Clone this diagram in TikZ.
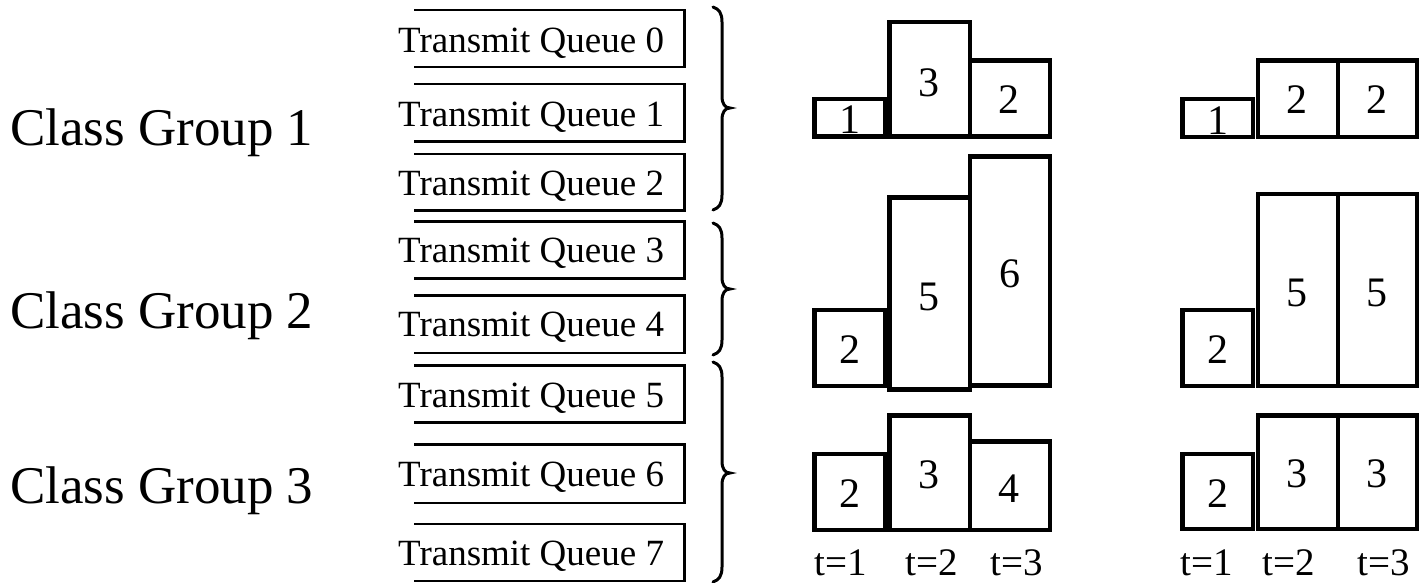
\documentclass[tikz,border=0pt]{standalone}
\usepackage{fontspec}
\setmainfont{Liberation Serif}
\tikzset{
  qbox/.style={line width=2.6pt, line join=miter},
  qtext/.style={inner sep=0pt, anchor=base west, font=\fontsize{37}{40}\selectfont},
  grp/.style={inner sep=0pt, anchor=base west, font=\fontsize{53}{56}\selectfont},
  brc/.style={line width=3pt, line cap=round},
  bar/.style={line width=4.4pt, line join=miter},
  num/.style={inner sep=0pt, anchor=base, font=\fontsize{42}{44}\selectfont},
  tlab/.style={inner sep=0pt, anchor=base, text depth=0pt, font=\fontsize{39}{41}\selectfont}
}
\newcommand{\cgbrace}[3]{%
  \draw[brc] (713,#1) .. controls (719,#1+2) and (722,#1+6) .. (722,#1+15)
    -- (722,#2-12) .. controls (722,#2-4) and (725,#2) .. (730,#2)
    .. controls (725,#2) and (722,#2+4) .. (722,#2+12)
    -- (722,#3-15) .. controls (722,#3-6) and (719,#3-2) .. (713,#3);}
\begin{document}
\begin{tikzpicture}[x=1pt,y=-1pt]
\useasboundingbox (0,0) rectangle (1419,582);
% class group labels
\node[grp] (g1) at (10,145) {Class Group 1};
\node[grp] (g2) at (10,328) {Class Group 2};
\node[grp] (g3) at (10,503) {Class Group 3};
% queue boxes
\foreach \t/\b/\bl/\i in {10/67/52/0, 84/141.5/126.5/1, 154/210.5/195/2, 221.5/278.5/262/3, 295.5/353/336.5/4, 365.5/422.5/407/5, 444.7/503/486.5/6, 524/581/565/7}{
  \draw[qbox] (414,\t) -- (684.5,\t) -- (684.5,\b) -- (414,\b);
  \node[qtext] (q\i) at (398,\bl) {Transmit Queue \i};
}
% braces
\cgbrace{7}{108}{210}
\cgbrace{223}{289}{355}
\cgbrace{362}{473}{582}
% left charts
\draw[bar] (814.5,98.8) rectangle (885,136.3);
\draw[bar] (889.5,22) rectangle (970,136.3);
\draw[bar] (970,60.5) rectangle (1050,136.3);
\node[num] (a1) at (850,133) {1};
\node[num] (a2) at (928.5,96) {3};
\node[num] (a3) at (1009,113) {2};
\draw[bar] (814.5,310) rectangle (885,386);
\draw[bar] (889.5,197.5) rectangle (970,389.5);
\draw[bar] (970,156.3) rectangle (1050,385.5);
\node[num] (b1) at (849.5,363) {2};
\node[num] (b2) at (929,310) {5};
\node[num] (b3) at (1009.5,287) {6};
\draw[bar] (814.5,454) rectangle (885,530);
\draw[bar] (889.5,415.5) rectangle (970,530);
\draw[bar] (970,441.5) rectangle (1050,530);
\node[num] (c1) at (849.5,507) {2};
\node[num] (c2) at (929,488) {3};
\node[num] (c3) at (1009,502) {4};
\node[tlab] (lt1) at (841,575) {t=1};
\node[tlab] (lt2) at (931.5,575) {t=2};
\node[tlab] (lt3) at (1016.5,575) {t=3};
% right charts
\draw[bar] (1182.5,99) rectangle (1253,136.7);
\draw[bar] (1258,60.5) rectangle (1338,136.7);
\draw[bar] (1338,60.5) rectangle (1417,136.7);
\node[num] (d1) at (1217.5,134) {1};
\node[num] (d2) at (1296.5,113) {2};
\node[num] (d3) at (1377,113) {2};
\draw[bar] (1182.5,310) rectangle (1253,386);
\draw[bar] (1258,194) rectangle (1338,386);
\draw[bar] (1338,194) rectangle (1417,386);
\node[num] (e1) at (1217.5,363) {2};
\node[num] (e2) at (1297,306) {5};
\node[num] (e3) at (1377,306) {5};
\draw[bar] (1182.5,454) rectangle (1253,529);
\draw[bar] (1258,415.5) rectangle (1338,529);
\draw[bar] (1338,415.5) rectangle (1417,529);
\node[num] (f1) at (1217.5,507) {2};
\node[num] (f2) at (1297,487) {3};
\node[num] (f3) at (1377,487) {3};
\node[tlab] (rt1) at (1207,575) {t=1};
\node[tlab] (rt2) at (1289,575) {t=2};
\node[tlab] (rt3) at (1383.5,575) {t=3};
\end{tikzpicture}
\end{document}
